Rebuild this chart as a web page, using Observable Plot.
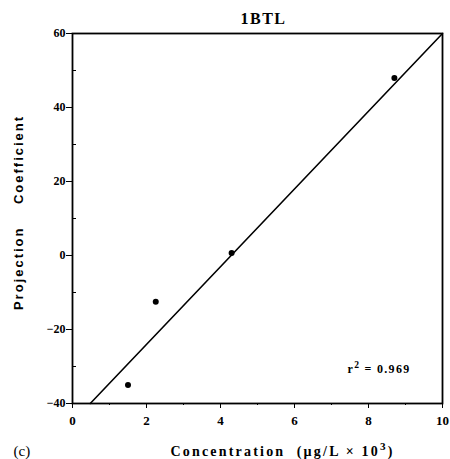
<!DOCTYPE html>
<html><head><meta charset="utf-8">
<script src="https://cdn.jsdelivr.net/npm/d3@7"></script>
<script src="https://cdn.jsdelivr.net/npm/@observablehq/plot@0.6"></script>
<style>body{margin:0;background:#fff}</style>
</head><body><div id="c"></div>
<script>
const conc = [1.5, 2.25, 4.3, 8.7];
const coef = [-35, -12.5, 0.7, 48];
const fitX = [0.48, 10];
const fitY = [-40, 60];
const xTicks = [0, 2, 4, 6, 8, 10];
const yTicks = [-40, -20, 0, 20, 40, 60];
const xMinor = [1, 3, 5, 7, 9];
const yMinor = [-30, -10, 10, 30, 50];
const title = "1BTL";
const xLabel = "Concentration\u00a0\u00a0(µg/L × 10³)";
const yLabel = "Projection\u00a0\u00a0\u00a0\u00a0Coefficient";
const rText = "r² = 0.969";
const panel = "(c)";

const pts = conc.map((x, i) => ({x, y: coef[i]}));
const fit = fitX.map((x, i) => ({x, y: fitY[i]}));
const serif = "'Liberation Serif', 'DejaVu Serif', serif";
const sans = "'Liberation Sans', Arial, sans-serif";

const chart = Plot.plot({
  width: 450, height: 459,
  marginLeft: 72, marginTop: 33, marginRight: 8, marginBottom: 56,
  style: {fontFamily: serif, background: "#fff", color: "#000"},
  x: {domain: [0, 10]},
  y: {domain: [-40, 60]},
  marks: [
    Plot.frame({stroke: "#000", strokeWidth: 1.8}),
    Plot.axisX({ticks: xTicks, tickSize: 5, tickPadding: 7, fontSize: 13, fontWeight: "bold", label: null, tickFormat: d3.format("d")}),
    Plot.axisX({ticks: xMinor, tickSize: 2, text: null, label: null}),
    Plot.axisY({ticks: yTicks, tickSize: 6, tickPadding: 1, fontSize: 12, fontWeight: "bold", label: null, tickFormat: d3.format("d")}),
    Plot.axisY({ticks: yMinor, tickSize: -4, text: null, label: null}),
    Plot.line(fit, {x: "x", y: "y", stroke: "#000", strokeWidth: 1.6}),
    Plot.dot(pts, {x: "x", y: "y", r: 3, fill: "#000"}),
    Plot.text([title], {frameAnchor: "top", dx: 6, dy: -10, lineAnchor: "bottom", fontSize: 16, fontWeight: "bold", fontFamily: serif}),
    Plot.text([rText], {frameAnchor: "bottom-right", textAnchor: "end", lineAnchor: "bottom", dx: -32, dy: -31, fontSize: 12, fontWeight: "bold", fontFamily: serif}),
    Plot.text([xLabel], {frameAnchor: "bottom", textAnchor: "middle", lineAnchor: "bottom", dx: 25, dy: 52, fontSize: 14, fontWeight: "bold", fontFamily: serif}),
    Plot.text([panel], {frameAnchor: "bottom-left", textAnchor: "start", lineAnchor: "bottom", dx: -59, dy: 52, fontSize: 15, fontFamily: serif}),
    Plot.text([yLabel], {frameAnchor: "left", textAnchor: "middle", rotate: -90, dx: -54, dy: -6, fontSize: 13, fontWeight: "bold", fontFamily: sans})
  ]
});
const spacing = new Map([[title, "1.5px"], [rText, "1.3px"], [xLabel, "2.2px"], [yLabel, "2px"]]);
chart.querySelectorAll("text").forEach(t => {
  const sp = spacing.get(t.textContent);
  if (sp) t.style.letterSpacing = sp;
});
// render superscript characters as raised full digits
const supMap = {"²": "2", "³": "3"};
const ns = "http://www.w3.org/2000/svg";
chart.querySelectorAll("text").forEach(t => {
  if (t.querySelector("tspan")) return;
  const s = t.textContent;
  if (!/[²³]/.test(s)) return;
  t.textContent = "";
  let buf = "";
  let raised = false;
  const flush = () => {
    if (!buf) return;
    const el = document.createElementNS(ns, "tspan");
    el.textContent = buf;
    if (raised) { el.setAttribute("dy", "0.36em"); raised = false; }
    t.appendChild(el);
    buf = "";
  };
  for (const ch of s) {
    if (supMap[ch]) {
      flush();
      const el = document.createElementNS(ns, "tspan");
      el.textContent = supMap[ch];
      el.setAttribute("dy", "-0.45em");
      el.setAttribute("font-size", "80%");
      t.appendChild(el);
      raised = true;
    } else buf += ch;
  }
  flush();
});
document.getElementById("c").appendChild(chart);
</script>
</body></html>
